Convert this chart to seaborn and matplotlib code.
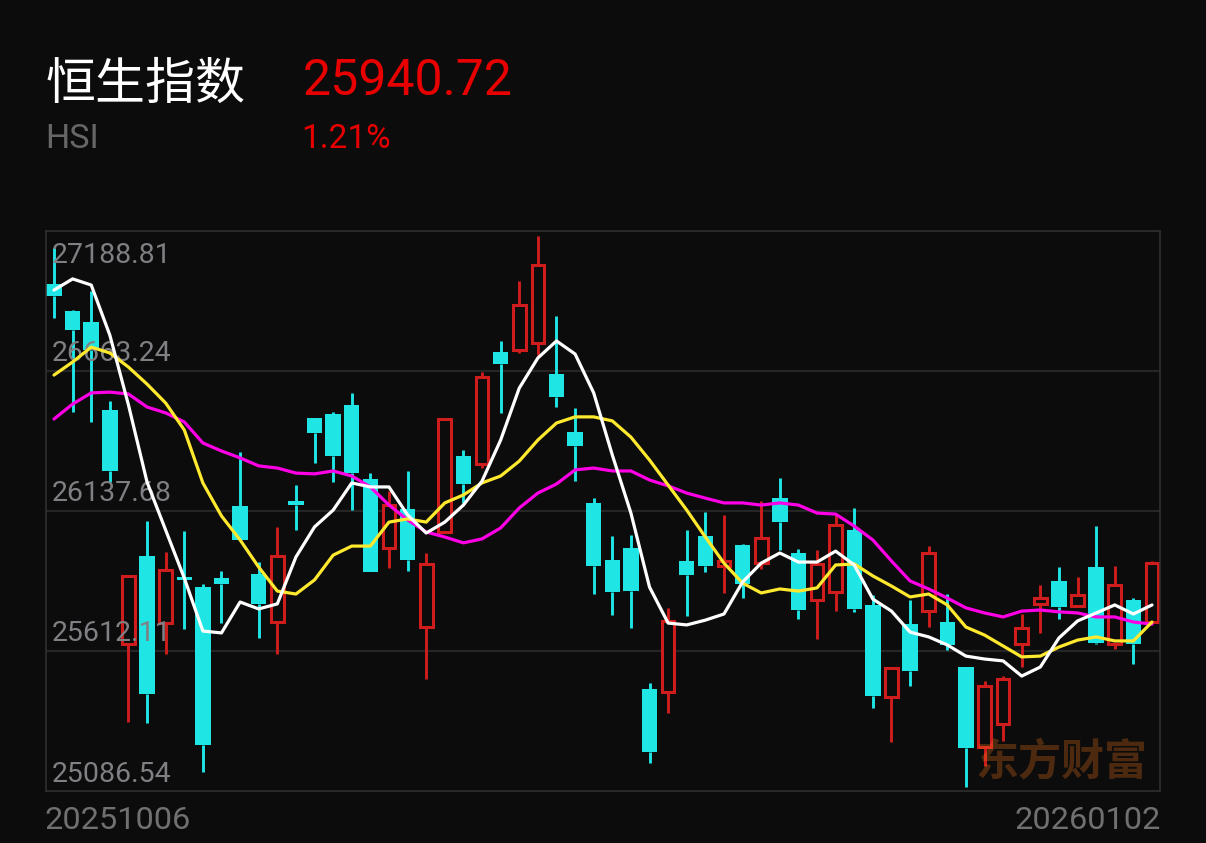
import matplotlib
matplotlib.use('Agg')
import matplotlib.pyplot as plt
import numpy as np
import seaborn as sns

title_cn = '恒生指数'
title_code = 'HSI'
last_price = '25940.72'
last_change = '1.21%'
first_date = '20251006'
last_date = '20260102'
watermark = '东方财富'

tick_values = [27188.81, 26663.24, 26137.68, 25612.11, 25086.54]

opens = [26990, 26888, 26847, 26517, 25638, 25969, 25717, 25890, 25852, 25886,
         26156, 25901, 25721, 26175, 26487, 26502, 26536, 26258, 25999, 26145,
         25702, 26059, 26344, 26314, 26735, 26742, 26768, 26652, 26434, 26168,
         25954, 25999, 25469, 25458, 25950, 26044, 25931, 26010, 25942, 26186,
         25980, 25804, 25834, 26066, 25785, 25439, 25713, 25762, 25721, 25552,
         25252, 25338, 25638, 25789, 25875, 25781, 25927, 25638, 25804, 25721]
closes = [26945, 26817, 26742, 26288, 25894, 25451, 25916, 25879, 25259, 25864,
          26029, 25789, 25969, 26160, 26430, 26344, 26280, 25909, 26160, 25954,
          25939, 26483, 26239, 26641, 26690, 26911, 27061, 26566, 26382, 25931,
          25834, 25837, 25233, 25725, 25897, 25931, 25950, 25864, 26036, 26096,
          25766, 25939, 26085, 25770, 25443, 25548, 25537, 25980, 25635, 25248,
          25481, 25507, 25698, 25811, 25777, 25822, 25642, 25860, 25638, 25942]
highs = [27125, 26892, 26964, 26551, 25894, 26100, 25984, 26063, 25864, 25912,
         26359, 25946, 26078, 26235, 26487, 26509, 26581, 26280, 26213, 26288,
         25980, 26483, 26367, 26659, 26776, 27001, 27170, 26870, 26524, 26186,
         26044, 26048, 25492, 25774, 26066, 26134, 26123, 26014, 26175, 26262,
         25995, 25991, 26123, 26149, 25822, 25548, 25804, 26006, 25826, 25552,
         25499, 25518, 25751, 25860, 25927, 25890, 26081, 25931, 25811, 25950]
lows = [26862, 26509, 26472, 26246, 25346, 25342, 25601, 25695, 25158, 25717,
        26029, 25661, 25601, 26066, 26318, 26246, 26141, 25909, 25924, 25912,
        25507, 26059, 26168, 26299, 26506, 26731, 26723, 26528, 26250, 25826,
        25747, 25698, 25192, 25379, 25744, 25909, 25830, 25811, 25920, 25991,
        25732, 25657, 25762, 25759, 25398, 25270, 25481, 25702, 25616, 25102,
        25180, 25274, 25552, 25680, 25732, 25781, 25638, 25620, 25563, 25721]

ma_white = [26967, 27009, 26986, 26798, 26536, 26246, 26066, 25886, 25687, 25680,
            25796, 25770, 25789, 25965, 26078, 26141, 26243, 26228, 26228, 26123,
            26055, 26096, 26160, 26250, 26404, 26599, 26712, 26776, 26727, 26581,
            26348, 26130, 25852, 25717, 25710, 25728, 25751, 25871, 25942, 25980,
            25946, 25946, 25987, 25935, 25807, 25762, 25683, 25665, 25635, 25593,
            25582, 25575, 25518, 25552, 25661, 25725, 25755, 25785, 25751, 25785]
ma_yellow = [26648, 26697, 26753, 26731, 26678, 26614, 26543, 26442, 26243, 26119,
             26029, 25927, 25837, 25826, 25879, 25972, 26006, 26006, 26096, 26108,
             26096, 26168, 26198, 26243, 26269, 26325, 26404, 26468, 26491, 26491,
             26476, 26415, 26329, 26235, 26141, 26040, 25942, 25867, 25830, 25845,
             25837, 25849, 25935, 25939, 25894, 25856, 25815, 25826, 25785, 25702,
             25672, 25631, 25590, 25593, 25627, 25653, 25665, 25650, 25650, 25721]
ma_magenta = [26483, 26539, 26581, 26584, 26577, 26528, 26506, 26472, 26393, 26363,
              26337, 26307, 26299, 26280, 26277, 26288, 26269, 26228, 26160, 26104,
              26059, 26040, 26018, 26033, 26074, 26149, 26205, 26239, 26292, 26299,
              26288, 26288, 26254, 26232, 26205, 26186, 26168, 26168, 26160, 26168,
              26160, 26130, 26126, 26081, 26029, 25950, 25875, 25845, 25811, 25774,
              25755, 25740, 25762, 25766, 25759, 25755, 25740, 25740, 25721, 25713]

BG = '#0c0c0c'
CYAN = '#1fe5e5'
RED = '#cf1c1c'

W, H = 1206, 843

LATIN = ['Roboto', 'Liberation Sans', 'DejaVu Sans']
CJK = ['Noto Sans CJK SC', 'DejaVu Sans']


def fx(px):
    return px / W


def fy(px):
    return 1 - px / H


sns.set_theme(style='dark', rc={'figure.facecolor': BG, 'axes.facecolor': BG})
plt.rcParams['font.family'] = LATIN

fig = plt.figure(figsize=(W / 100, H / 100), dpi=100)
ax = fig.add_axes([fx(46), fy(791), (1160 - 46) / W, 560 / H])

idx = np.arange(len(opens))
o = np.array(opens)
c = np.array(closes)
up = c >= o
body_top = np.maximum(o, c)
body_bot = np.minimum(o, c)

for v in tick_values[1:-1]:
    ax.axhline(v, color='#252525', lw=1.6, zorder=1)

# wicks stop at the body so the red candles stay hollow
for mask, col in [(up, RED), (~up, CYAN)]:
    ax.vlines(idx[mask], body_top[mask], np.array(highs)[mask], color=col, lw=2.1, zorder=2)
    ax.vlines(idx[mask], np.array(lows)[mask], body_bot[mask], color=col, lw=2.1, zorder=2)

ax.bar(idx[~up], (body_top - body_bot)[~up], bottom=body_bot[~up], width=0.83,
       color=CYAN, linewidth=0, zorder=2)
ax.bar(idx[up], (body_top - body_bot)[up], bottom=body_bot[up], width=0.68,
       facecolor=BG, edgecolor=RED, linewidth=2.2, zorder=2)

# price labels sit just above their gridline, the top one below the frame
label_offsets = [-23, 7.2, 7.2, 7.2, 6.5]
for v, off in zip(tick_values, label_offsets):
    ax.annotate(f'{v:.2f}', xy=(0, v), xycoords=('axes fraction', 'data'),
                xytext=(4, off), textcoords='offset points', va='baseline',
                color='#808084', fontsize=20.5, zorder=3, annotation_clip=False)

sns.lineplot(x=idx, y=ma_magenta, color='#ff00e6', lw=2.3, ax=ax, zorder=4)
sns.lineplot(x=idx, y=ma_yellow, color='#ffe92e', lw=2.3, ax=ax, zorder=5)
sns.lineplot(x=idx, y=ma_white, color='#ffffff', lw=2.3, ax=ax, zorder=6)

ax.set_xlim(-0.43, 59.43)
ax.set_ylim(tick_values[-1], tick_values[0])
ax.set_xticks([])
ax.set_yticks([])
ax.grid(False)
for spine in ax.spines.values():
    spine.set_visible(True)
    spine.set_color('#333333')
    spine.set_linewidth(1.1)

fig.text(fx(976), fy(775), watermark, color='#ff7a1a', alpha=0.27, fontsize=31,
         fontweight='bold', family=CJK, va='baseline', zorder=10)

fig.text(fx(46), fy(99), title_cn, color='white', fontsize=36,
         fontweight='light', family=CJK, va='baseline')
fig.text(fx(303), fy(95), last_price, color='#e80000', fontsize=36, va='baseline')
fig.text(fx(45), fy(148), title_code, color='#666666', fontsize=24.5, va='baseline')
fig.text(fx(301), fy(148), last_change, color='#e80000', fontsize=24, va='baseline')
fig.text(fx(45), fy(829), first_date, color='#707070', fontsize=23.4, va='baseline')
fig.text(fx(1161), fy(829), last_date, color='#707070', fontsize=23.4, va='baseline', ha='right')

fig.savefig('out.png', dpi=100, facecolor=BG)
